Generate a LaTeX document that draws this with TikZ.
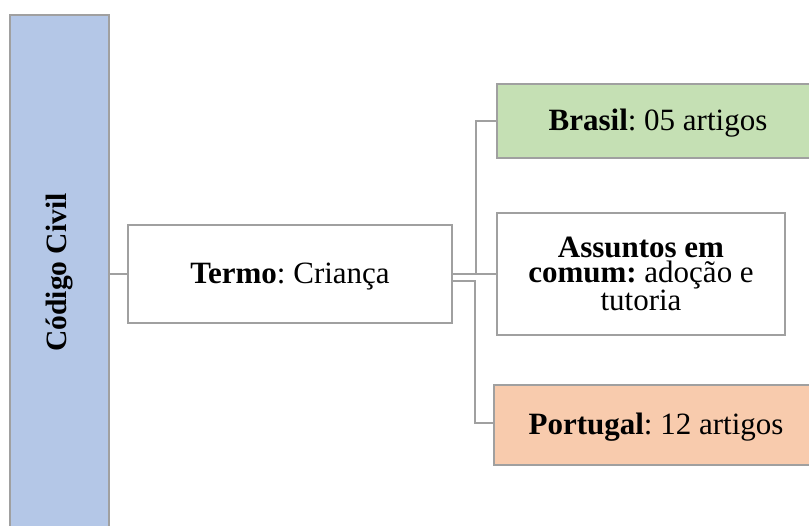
\documentclass[tikz,border=0pt]{standalone}
\usepackage{fontspec}
\setmainfont{Liberation Serif}
\frenchspacing
\definecolor{boxline}{HTML}{A0A0A0}
\definecolor{civilblue}{HTML}{B4C7E7}
\definecolor{brgreen}{HTML}{C5E0B4}
\definecolor{ptorange}{HTML}{F8CBAD}
\begin{document}
\begin{tikzpicture}[x=1pt,y=-1pt,
  box/.style={draw=boxline, line width=2pt, inner sep=0pt, align=center,
    font=\fontsize{31}{25.5}\selectfont},
  oneline/.style={text height=24pt, text depth=5pt},
  link/.style={draw=boxline, line width=2pt}]
\useasboundingbox (0,0) rectangle (809,526);
\fill[white] (0,0) rectangle (809,526);
\clip (0,0) rectangle (809,526);

% main boxes
\node[box, fill=civilblue, minimum width=99pt, minimum height=515pt,
  font=\fontsize{29.5}{32}\selectfont]
  (codigo) at (59.5,272.5) {\rotatebox{90}{\textbf{Código Civil}}};
\node[box, oneline, fill=white, minimum width=324pt, minimum height=98pt]
  (termo) at (290,274) {\textbf{Termo}: Criança};
\node[box, oneline, fill=brgreen, minimum width=322pt, minimum height=74pt]
  (brasil) at (658,121) {\textbf{Brasil}: 05 artigos};
\node[box, fill=white, minimum width=288pt, minimum height=122pt]
  (assuntos) at (641,274) {\textbf{Assuntos em}\\\textbf{comum:} adoção e\\tutoria};
\node[box, oneline, fill=ptorange, minimum width=324pt, minimum height=80pt]
  (portugal) at (656,425) {\textbf{Portugal}: 12 artigos};

% connectors
\draw[link] (termo.west -| codigo.east) -- (termo.west);
\draw[link] (termo.east) -- ++(23,0) |- (brasil.west);
\draw[link] (termo.east) -- (termo.east -| assuntos.west);
\draw[link] ([yshift=-7pt]termo.east) -- ++(22,0) |- ([yshift=2pt]portugal.west);
\end{tikzpicture}
\end{document}
